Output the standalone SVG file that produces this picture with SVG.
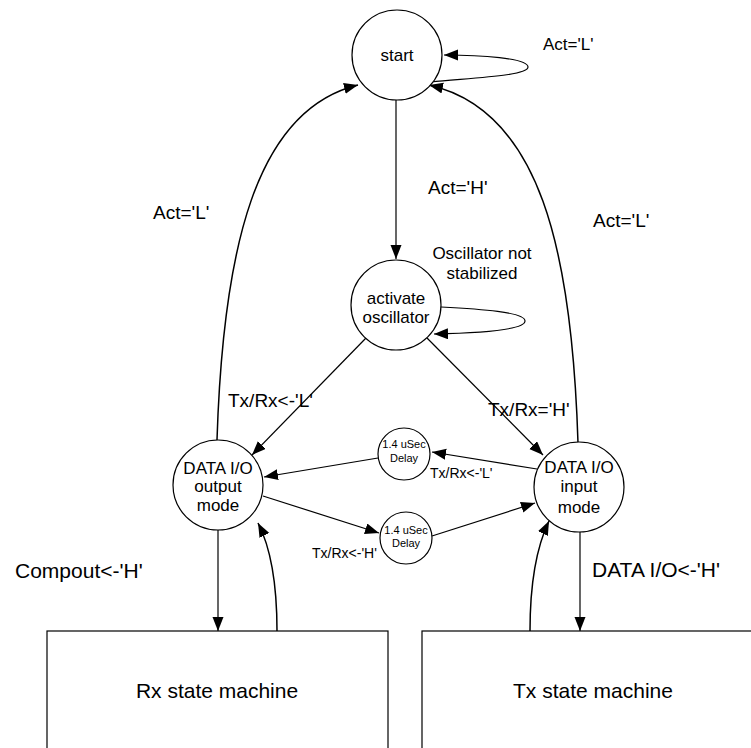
<svg xmlns="http://www.w3.org/2000/svg" width="751" height="748" viewBox="0 0 751 748">
<defs>
<style>
.n{fill:#fff;stroke:#000;stroke-width:1.2}
.t{font-family:"Liberation Sans",Arial,sans-serif;fill:#000}
.c{text-anchor:middle;font-size:17px}
.l{font-size:19px}
.s{font-size:14px}
.d{text-anchor:middle;font-size:11px}
.b{text-anchor:middle;font-size:21px}
.e{fill:none;stroke:#000;stroke-width:1.2;marker-end:url(#ah)}
.e2{fill:none;stroke:#000;stroke-width:1.5}
.a{marker-end:url(#ah)}
</style>
<marker id="ah" markerUnits="userSpaceOnUse" markerWidth="15" markerHeight="12" refX="14" refY="5.5" orient="auto"><path d="M0,0 L14,5.5 L0,11 z" fill="#000"/></marker>
</defs>
<rect width="751" height="748" fill="#fff"/>
<g id="connectors">
<path class="e" d="M396 100 L396 259"/>
<path class="e" d="M431 82 C470 78 528 76 528 67 C528 58 480 55 444 55"/>
<path class="e" d="M441 307 C480 309 525 312 525 321 C525 330 480 333 434 334"/>
<path class="e" d="M366 338 L252 455"/>
<path class="e" d="M427 338 L543 455"/>
<path class="e" d="M537 469 L432 452"/>
<path class="e" d="M378 458 L264 477"/>
<path class="e" d="M263 496 L379 533"/>
<path class="e" d="M432 536 L535 503"/>
<path class="e" d="M218 530 L218 631"/>
<path class="e" d="M580 532 L580 631"/>
<path class="e2 a" d="M277 631 C277 590 272 550 258 523"/>
<path class="e2 a" d="M530 631 C530 590 535 550 549 521"/>
<path class="e2 a" d="M217 440 C223 250 255 110 358 85"/>
<path class="e2 a" d="M578 443 C572 250 540 110 429 85"/>
</g>
<g id="start"><circle class="n" cx="397" cy="55" r="45"/><text class="t c" x="397" y="61">start</text></g>
<g id="activate"><circle class="n" cx="396" cy="305" r="45"/><text class="t c" x="396" y="304">activate</text><text class="t c" x="396" y="323">oscillator</text></g>
<g id="output"><circle class="n" cx="218" cy="485" r="45"/><text class="t c" x="218" y="474">DATA I/O</text><text class="t c" x="218" y="492">output</text><text class="t c" x="218" y="511">mode</text></g>
<g id="input"><circle class="n" cx="579" cy="487" r="45"/><text class="t c" x="579" y="473">DATA I/O</text><text class="t c" x="579" y="492">input</text><text class="t c" x="579" y="513">mode</text></g>
<g id="delay1"><circle class="n" cx="404" cy="454" r="26"/><text class="t d" x="404" y="448">1.4 uSec</text><text class="t d" x="404" y="462">Delay</text></g>
<g id="delay2"><circle class="n" cx="406" cy="538" r="26"/><text class="t d" x="406" y="534">1.4 uSec</text><text class="t d" x="406" y="547">Delay</text></g>
<g id="rx"><rect class="n" x="47" y="631" width="341" height="130"/><text class="t b" x="217" y="698">Rx state machine</text></g>
<g id="tx"><rect class="n" x="422" y="631" width="340" height="130"/><text class="t b" x="593" y="698">Tx state machine</text></g>
<g id="labels">
<text class="t" x="543" y="50" font-size="17">Act='L'</text>
<text class="t l" x="153" y="219">Act='L'</text>
<text class="t l" x="593" y="227">Act='L'</text>
<text class="t l" x="428" y="194">Act='H'</text>
<text class="t c" x="482" y="259">Oscillator not</text>
<text class="t c" x="482" y="279">stabilized</text>
<text class="t l" x="228" y="407">Tx/Rx&lt;-'L'</text>
<text class="t l" x="488" y="416">Tx/Rx='H'</text>
<text class="t s" x="430" y="478">Tx/Rx&lt;-'L'</text>
<text class="t s" x="312" y="558">Tx/Rx&lt;-'H'</text>
<text class="t" x="15" y="578" font-size="21">Compout&lt;-'H'</text>
<text class="t" x="592" y="577" font-size="21">DATA I/O&lt;-'H'</text>
</g>
</svg>
